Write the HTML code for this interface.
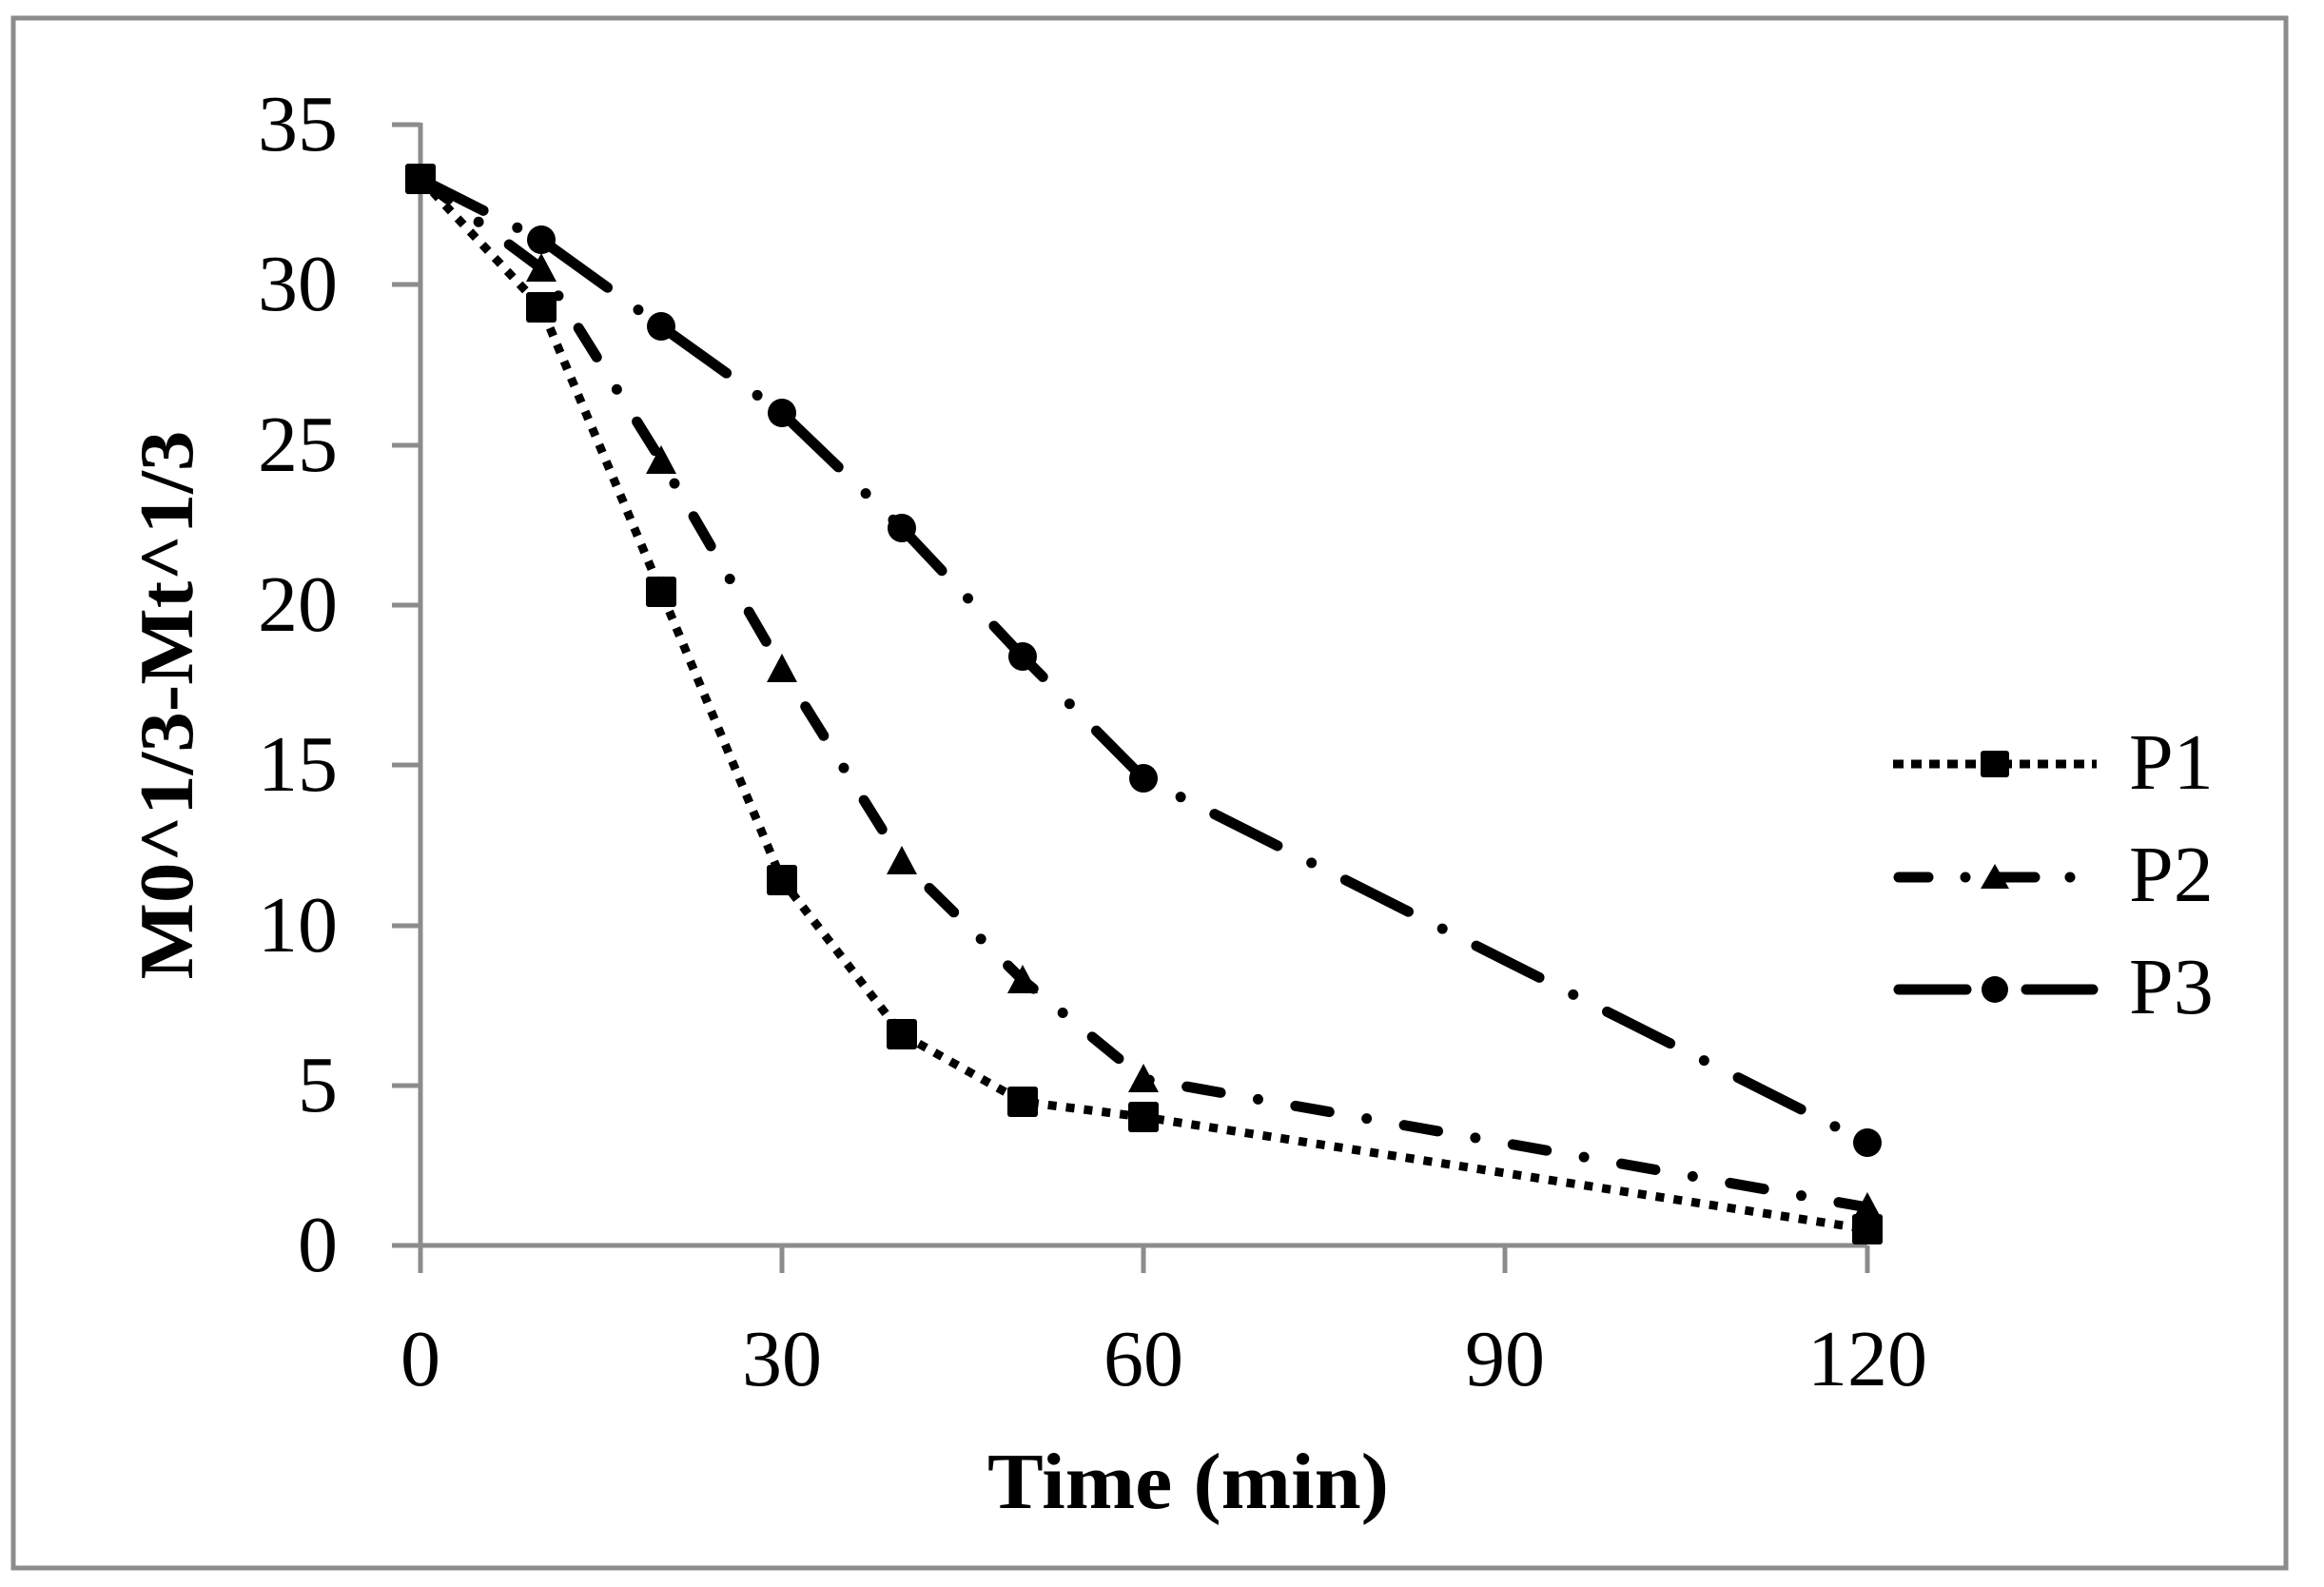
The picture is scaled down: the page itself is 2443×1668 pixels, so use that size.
<!DOCTYPE html>
<html><head><meta charset="utf-8"><style>html,body{margin:0;padding:0;background:#fff}svg{display:block}</style></head>
<body>
<svg width="2443" height="1668" viewBox="0 0 2443 1668" xmlns="http://www.w3.org/2000/svg">
<rect x="0" y="0" width="2443" height="1668" fill="#fff"/>
<rect x="14" y="19" width="2389" height="1629" fill="none" stroke="#8c8c8c" stroke-width="5"/>
<g stroke="#8c8c8c" stroke-width="5" fill="none">
<line x1="442" y1="129" x2="442" y2="1309"/>
<line x1="412" y1="1309" x2="1963" y2="1309"/>
<line x1="412" y1="131" x2="442" y2="131"/>
<line x1="412" y1="299" x2="442" y2="299"/>
<line x1="412" y1="468" x2="442" y2="468"/>
<line x1="412" y1="636" x2="442" y2="636"/>
<line x1="412" y1="804" x2="442" y2="804"/>
<line x1="412" y1="973" x2="442" y2="973"/>
<line x1="412" y1="1141" x2="442" y2="1141"/>
<line x1="442" y1="1309" x2="442" y2="1338"/>
<line x1="822" y1="1309" x2="822" y2="1338"/>
<line x1="1202" y1="1309" x2="1202" y2="1338"/>
<line x1="1582" y1="1309" x2="1582" y2="1338"/>
<line x1="1963" y1="1309" x2="1963" y2="1338"/>
</g>
<g font-family="Liberation Serif, serif" font-size="84" fill="#000" text-anchor="end">
<text x="355" y="158">35</text>
<text x="355" y="326">30</text>
<text x="355" y="495">25</text>
<text x="355" y="663">20</text>
<text x="355" y="831">15</text>
<text x="355" y="1000">10</text>
<text x="355" y="1168">5</text>
<text x="355" y="1336">0</text>
</g>
<g font-family="Liberation Serif, serif" font-size="84" fill="#000" text-anchor="middle">
<text x="442" y="1456">0</text>
<text x="822" y="1456">30</text>
<text x="1202" y="1456">60</text>
<text x="1582" y="1456">90</text>
<text x="1963" y="1456">120</text>
</g>
<text x="1249" y="1585" font-family="Liberation Serif, serif" font-weight="bold" font-size="84" text-anchor="middle" textLength="422" lengthAdjust="spacingAndGlyphs">Time (min)</text>
<text transform="translate(202,741) rotate(-90)" font-family="Liberation Serif, serif" font-weight="bold" font-size="80" text-anchor="middle" textLength="577" lengthAdjust="spacingAndGlyphs">M0^1/3-Mt^1/3</text>
<polyline fill="none" stroke="#000" stroke-width="9" stroke-dasharray="9 10" points="442,188 569,323 695,622 822,925 948,1087 1075,1158 1202,1174 1963,1292"/>
<polyline fill="none" stroke="#000" stroke-width="11" stroke-linecap="round" stroke-dasharray="36 40 0 40" points="442,188 569,282 695,484 822,703 948,905 1075,1030 1202,1134 1963,1269"/>
<polyline fill="none" stroke="#000" stroke-width="11" stroke-linecap="round" stroke-dasharray="74 40 0 40" points="442,188 569,252 695,343 822,434 948,555 1075,690 1202,818 1963,1201"/>
<g fill="#000">
<rect x="426" y="172" width="32" height="32" rx="3"/>
<rect x="553" y="307" width="32" height="32" rx="3"/>
<rect x="679" y="606" width="32" height="32" rx="3"/>
<rect x="806" y="909" width="32" height="32" rx="3"/>
<rect x="932" y="1071" width="32" height="32" rx="3"/>
<rect x="1059" y="1142" width="32" height="32" rx="3"/>
<rect x="1186" y="1158" width="32" height="32" rx="3"/>
<rect x="1947" y="1276" width="32" height="32" rx="3"/>
<polygon points="569,266 585,296 553,296"/>
<polygon points="695,468 711,498 679,498"/>
<polygon points="822,687 838,717 806,717"/>
<polygon points="948,889 964,919 932,919"/>
<polygon points="1075,1014 1091,1044 1059,1044"/>
<polygon points="1202,1118 1218,1148 1186,1148"/>
<polygon points="1963,1253 1979,1283 1947,1283"/>
<circle cx="569" cy="252" r="15"/>
<circle cx="695" cy="343" r="15"/>
<circle cx="822" cy="434" r="15"/>
<circle cx="948" cy="555" r="15"/>
<circle cx="1075" cy="690" r="15"/>
<circle cx="1202" cy="818" r="15"/>
<circle cx="1963" cy="1201" r="15"/>
</g>
<line x1="1990" y1="803" x2="2204" y2="803" stroke="#000" stroke-width="9" stroke-dasharray="11 8"/>
<rect x="2082" y="789" width="30" height="28" rx="3" fill="#000"/>
<g stroke="#000" stroke-width="11" stroke-linecap="round">
<line x1="1996" y1="922" x2="2027" y2="922"/>
<line x1="2066" y1="922" x2="2066" y2="922"/>
<line x1="2100" y1="922" x2="2139" y2="922"/>
<line x1="2176" y1="922" x2="2176" y2="922"/>
<line x1="1996" y1="1040" x2="2067" y2="1040"/>
<line x1="2130" y1="1040" x2="2200" y2="1040"/>
</g>
<polygon points="2097,908 2112,934 2082,934" fill="#000"/>
<circle cx="2097" cy="1040" r="14" fill="#000"/>
<g font-family="Liberation Serif, serif" font-size="84" fill="#000">
<text x="2238" y="829">P1</text>
<text x="2238" y="947">P2</text>
<text x="2238" y="1065">P3</text>
</g>
</svg>
</body></html>
